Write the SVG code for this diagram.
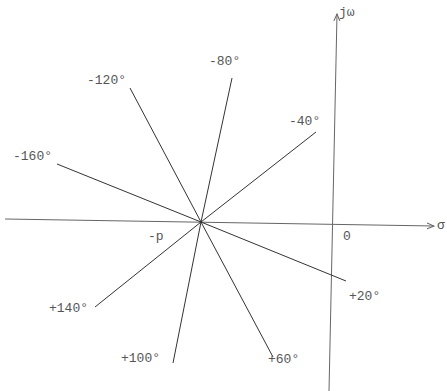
<svg xmlns="http://www.w3.org/2000/svg" width="447" height="391" viewBox="0 0 447 391">
<style>
.t{font-family:"Liberation Mono","DejaVu Sans Mono",monospace;font-size:13px;fill:#555}
.r{stroke:#333;stroke-width:1;fill:none}
.ax{stroke:#666;stroke-width:1;fill:none}
</style>
<defs>
<marker id="ah" markerWidth="8" markerHeight="8" refX="7" refY="4" orient="auto" markerUnits="userSpaceOnUse">
<path d="M0,1 L7,4 L0,7" fill="none" stroke="#666" stroke-width="1"/>
</marker>
</defs>
<rect width="447" height="391" fill="#fff"/>
<g id="axes">
<line class="ax" x1="5" y1="219" x2="434" y2="226" marker-end="url(#ah)"/>
<line class="ax" x1="329" y1="391" x2="337" y2="14" marker-end="url(#ah)"/>
</g>
<g id="connectors">
<line class="r" x1="201" y1="222" x2="57" y2="164"/>
<line class="r" x1="201" y1="222" x2="130" y2="88"/>
<line class="r" x1="201" y1="222" x2="232" y2="78"/>
<line class="r" x1="201" y1="222" x2="316" y2="132"/>
<line class="r" x1="201" y1="222" x2="346" y2="281"/>
<line class="r" x1="201" y1="222" x2="273" y2="357"/>
<line class="r" x1="201" y1="222" x2="173" y2="363"/>
<line class="r" x1="201" y1="222" x2="95" y2="307"/>
</g>
<g id="labels">
<text class="t" x="13" y="160">-160°</text>
<text class="t" x="87" y="84">-120°</text>
<text class="t" x="209" y="65">-80°</text>
<text class="t" x="289" y="125">-40°</text>
<text class="t" x="148" y="240">-p</text>
<text class="t" x="343" y="240">0</text>
<text class="t" x="349" y="300">+20°</text>
<text class="t" x="49" y="312">+140°</text>
<text class="t" x="121" y="362">+100°</text>
<text class="t" x="268" y="363">+60°</text>
<text class="t" x="437" y="229">σ</text>
<text class="t" x="339" y="16">jω</text>
</g>
</svg>
